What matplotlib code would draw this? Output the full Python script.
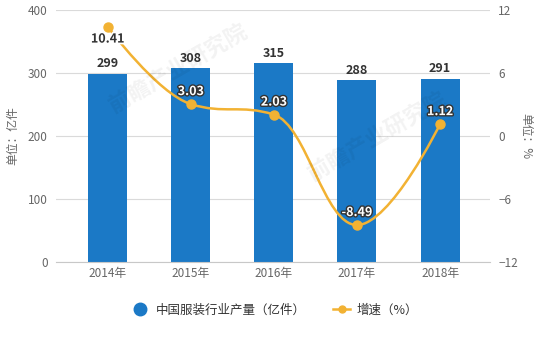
import matplotlib
matplotlib.use("Agg")
import matplotlib.pyplot as plt
import matplotlib.patheffects as pe
from matplotlib.path import Path
from matplotlib.patches import PathPatch
from matplotlib.lines import Line2D

plt.rcParams["font.family"] = ["Noto Sans CJK SC", "DejaVu Sans"]

years = ["2014年", "2015年", "2016年", "2017年", "2018年"]
output = [299, 308, 315, 288, 291]          # 亿件
growth = [10.41, 3.03, 2.03, -8.49, 1.12]   # %

BLUE = "#1b79c6"
ORANGE = "#f2b233"
GRID = "#dadada"
TICK = "#666666"


def spline_path(xs, ys, smoothing=1.5):
    """Bezier spline through the points, same scheme as a Highcharts 'spline' series."""
    verts = [(xs[0], ys[0])]
    codes = [Path.MOVETO]
    n = len(xs)
    ctrl = []
    for i in range(n):
        if i == 0 or i == n - 1:
            ctrl.append(((xs[i], ys[i]), (xs[i], ys[i])))
            continue
        d = smoothing + 1
        lx = (smoothing * xs[i] + xs[i - 1]) / d
        ly = (smoothing * ys[i] + ys[i - 1]) / d
        rx = (smoothing * xs[i] + xs[i + 1]) / d
        ry = (smoothing * ys[i] + ys[i + 1]) / d
        corr = (ry - ly) * (rx - xs[i]) / (rx - lx) + ys[i] - ry
        ly += corr
        ry += corr
        if ly > ys[i - 1] and ly > ys[i]:
            ly = max(ys[i - 1], ys[i]); ry = 2 * ys[i] - ly
        elif ly < ys[i - 1] and ly < ys[i]:
            ly = min(ys[i - 1], ys[i]); ry = 2 * ys[i] - ly
        if ry > ys[i + 1] and ry > ys[i]:
            ry = max(ys[i + 1], ys[i]); ly = 2 * ys[i] - ry
        elif ry < ys[i + 1] and ry < ys[i]:
            ry = min(ys[i + 1], ys[i]); ly = 2 * ys[i] - ry
        ctrl.append(((lx, ly), (rx, ry)))
    for i in range(1, n):
        verts += [ctrl[i - 1][1], ctrl[i][0], (xs[i], ys[i])]
        codes += [Path.CURVE4] * 3
    return Path(verts, codes)


fig = plt.figure(figsize=(5.39, 3.41), dpi=100)
ax = fig.add_axes([0.104, 0.232, 0.805, 0.739])
x = list(range(len(years)))

ax.bar(x, output, width=0.47, color=BLUE, zorder=2)
ax.set_ylim(0, 400)
ax.set_yticks([0, 100, 200, 300, 400])
ax.set_xlim(-0.62, 4.6)
ax.set_xticks(x)
ax.set_xticklabels(years)
ax.grid(axis="y", color=GRID, linewidth=0.8, zorder=0)
ax.tick_params(axis="y", length=0, labelsize=8.5, labelcolor=TICK, pad=6)
ax.tick_params(axis="x", length=0, labelsize=8.5, labelcolor=TICK, pad=4)
for s in ["top", "right", "left"]:
    ax.spines[s].set_visible(False)
ax.spines["bottom"].set_color("#c8c8c8")
ax.set_ylabel("单位：亿件", fontsize=8.5, color=TICK, labelpad=6)

for xi, v in zip(x, output):
    ax.annotate(str(v), (xi, v), xytext=(0, 7), textcoords="offset points",
                ha="center", va="center", fontsize=9, fontweight="bold",
                color="#333333", zorder=5)

ax2 = ax.twinx()
ax2.set_ylim(-12, 12)
ax2.set_yticks([-12, -6, 0, 6, 12])
ax2.tick_params(axis="y", length=0, labelsize=8.5, labelcolor=TICK, pad=6)
for s in ax2.spines.values():
    s.set_visible(False)
ax2.set_ylabel("单位：%", fontsize=8.5, color=TICK, rotation=-90, labelpad=10)

ax2.add_patch(PathPatch(spline_path(x, growth), facecolor="none",
                        edgecolor=ORANGE, linewidth=1.8, zorder=3))
ax2.plot(x, growth, "o", color=ORANGE, markersize=6.5, zorder=4)

for i, (xi, v) in enumerate(zip(x, growth)):
    if i == 0:
        ax2.annotate(f"{v:.2f}", (xi, v), xytext=(0, -9), textcoords="offset points",
                     ha="center", va="center", fontsize=9, fontweight="bold",
                     color="#333333", zorder=6,
                     path_effects=[pe.withStroke(linewidth=2.5, foreground="white")])
    else:
        ax2.annotate(f"{v:.2f}", (xi, v), xytext=(0, 9), textcoords="offset points",
                     ha="center", va="center", fontsize=9, fontweight="bold",
                     color="white", zorder=6,
                     path_effects=[pe.withStroke(linewidth=2, foreground="#333333")])

# watermark
for wx, wy in [(0.33, 0.80), (0.70, 0.60)]:
    fig.text(wx, wy, "前瞻产业研究院", fontsize=16, fontweight="bold", color="#000000",
             alpha=0.05, rotation=30, ha="center", va="center")

handles = [
    Line2D([], [], marker="o", color="none", markerfacecolor=BLUE,
           markeredgecolor=BLUE, markersize=9),
    Line2D([], [], marker="o", color=ORANGE, markerfacecolor=ORANGE,
           markeredgecolor=ORANGE, markersize=5, linewidth=1.8),
]
fig.legend(handles, ["中国服装行业产量（亿件）", "增速（%）"], loc="center",
           bbox_to_anchor=(0.51, 0.09), ncol=2, frameon=False, fontsize=9,
           handlelength=1.4, columnspacing=2.2, handletextpad=0.5,
           labelcolor="#333333")

fig.savefig("out.png", dpi=100)
